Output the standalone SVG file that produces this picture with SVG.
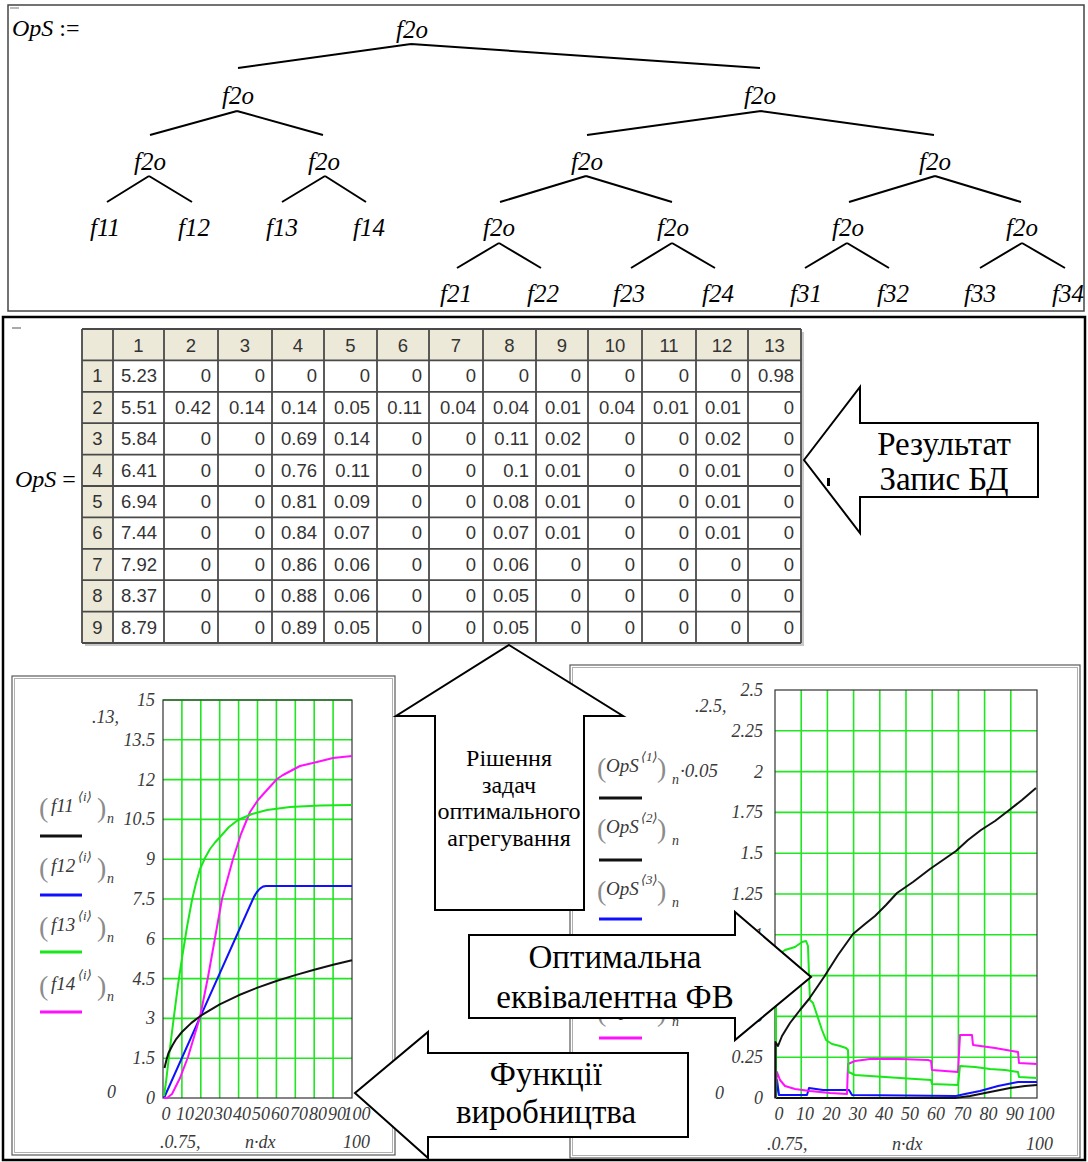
<svg xmlns="http://www.w3.org/2000/svg" width="1088" height="1162" viewBox="0 0 1088 1162">
<defs>
<style>
.tr{font-family:'Liberation Serif','DejaVu Serif',serif;font-style:italic;font-size:25px;text-anchor:middle;fill:#000}
.lbl{font-family:'Liberation Serif','DejaVu Serif',serif;font-style:italic;font-size:24px;fill:#000}
.edge{stroke:#000;stroke-width:2;fill:none}
.cell{font-family:'Liberation Sans',Arial,sans-serif;font-size:18.5px;fill:#333;text-anchor:end}
.hd{font-family:'Liberation Sans',Arial,sans-serif;font-size:18.5px;fill:#333;text-anchor:middle}
.tline{stroke:#4a4a4a;stroke-width:1.8;fill:none}
.grid{stroke:#22e622;stroke-width:1.6;fill:none}
.frame{stroke:#333;stroke-width:1.2;fill:none}
.ax{font-family:'Liberation Serif','DejaVu Serif',serif;font-style:italic;font-size:18px;fill:#3a3a3a}
.ya{text-anchor:end}
.xa{text-anchor:middle}
.par{font-family:'Liberation Serif','DejaVu Serif',serif;font-size:28px;fill:#8c8c8c}
.lf{font-family:'Liberation Serif','DejaVu Serif',serif;font-style:italic;font-size:19px;fill:#3a3a3a}
.sup{font-family:'Liberation Serif','DejaVu Serif',serif;font-style:italic;font-size:13px;fill:#3a3a3a}
.sub{font-family:'Liberation Serif','DejaVu Serif',serif;font-style:italic;font-size:14px;fill:#3a3a3a}
.key{stroke-width:3;fill:none}
.arrow{fill:#fff;stroke:#000;stroke-width:2;stroke-linejoin:miter}
.atx{font-family:'Liberation Serif','DejaVu Serif',serif;font-size:33px;text-anchor:middle;fill:#000}
.atxs{font-family:'Liberation Serif','DejaVu Serif',serif;font-size:24px;text-anchor:middle;fill:#000}
.box{fill:#fff;stroke:#5a5a5a;stroke-width:1.2}
.boxin{fill:none;stroke:#b0b0b0;stroke-width:1}
.curve{fill:none;stroke-width:2;stroke-linejoin:round}
</style>
</defs>

<rect width="1088" height="1162" fill="#fff"/>

<!-- upper region: aggregation tree -->
<g id="tree-panel">
  <rect x="8" y="5" width="1076" height="306" fill="#fff" stroke="#444" stroke-width="1.5"/>
  <rect x="10" y="7" width="9" height="2" fill="#bbb"/>
  <text class="lbl" x="12" y="36">OpS <tspan font-style="normal">:=</tspan></text>
</g>

<g id="tree-connectors">
  <path class="edge" d="M411,44 L238,68 M411,44 L760,68
    M237,111 L150,135 M237,111 L323,135
    M761,111 L587,135 M761,111 L934,135
    M149,176 L107,202 M149,176 L192,202
    M325,176 L282,202 M325,176 L366,202
    M586,176 L500,202 M586,176 L672,202
    M935,176 L849,202 M935,176 L1021,202
    M499,243 L457,268 M499,243 L541,268
    M672,243 L631,268 M672,243 L715,268
    M847,243 L805,268 M847,243 L889,268
    M1022,243 L980,268 M1022,243 L1065,268"/>
</g>

<g id="node-root"><text class="tr" x="412" y="38">f2o</text></g>
<g id="node-a"><text class="tr" x="238" y="104">f2o</text></g>
<g id="node-b"><text class="tr" x="760" y="104">f2o</text></g>
<g id="node-a1"><text class="tr" x="150" y="170">f2o</text></g>
<g id="node-a2"><text class="tr" x="324" y="170">f2o</text></g>
<g id="node-b1"><text class="tr" x="587" y="170">f2o</text></g>
<g id="node-b2"><text class="tr" x="935" y="170">f2o</text></g>
<g id="node-f11"><text class="tr" x="105" y="236">f11</text></g>
<g id="node-f12"><text class="tr" x="194" y="236">f12</text></g>
<g id="node-f13"><text class="tr" x="282" y="236">f13</text></g>
<g id="node-f14"><text class="tr" x="369" y="236">f14</text></g>
<g id="node-b11"><text class="tr" x="499" y="236">f2o</text></g>
<g id="node-b12"><text class="tr" x="673" y="236">f2o</text></g>
<g id="node-b21"><text class="tr" x="848" y="236">f2o</text></g>
<g id="node-b22"><text class="tr" x="1022" y="236">f2o</text></g>
<g id="node-f21"><text class="tr" x="456" y="302">f21</text></g>
<g id="node-f22"><text class="tr" x="543" y="302">f22</text></g>
<g id="node-f23"><text class="tr" x="629" y="302">f23</text></g>
<g id="node-f24"><text class="tr" x="718" y="302">f24</text></g>
<g id="node-f31"><text class="tr" x="806" y="302">f31</text></g>
<g id="node-f32"><text class="tr" x="893" y="302">f32</text></g>
<g id="node-f33"><text class="tr" x="980" y="302">f33</text></g>
<g id="node-f34"><text class="tr" x="1068" y="302">f34</text></g>

<!-- lower region frame -->
<g id="results-panel">
  <rect x="3" y="317" width="1082" height="843" fill="#fff" stroke="#000" stroke-width="2.5"/>
  <rect x="12" y="327" width="9" height="2" fill="#aaa"/>
</g>

<!-- result matrix -->
<g id="matrix">
  <text class="lbl" x="15" y="487" font-size="21">OpS <tspan font-style="normal">=</tspan></text>
  <rect x="85" y="332" width="719" height="314" fill="#c8c8c8"/>
  <rect x="82" y="329" width="719" height="314" fill="#fff"/>
  <rect x="82" y="329" width="719" height="31.4" fill="#ece9d8"/>
  <rect x="82" y="329" width="31" height="314" fill="#ece9d8"/>
  <path class="tline" d="M82,329 H801 M82,360.4 H801 M82,391.8 H801 M82,423.2 H801 M82,454.6 H801 M82,486 H801 M82,517.4 H801 M82,548.8 H801 M82,580.2 H801 M82,611.6 H801 M82,643 H801
    M82,329 V643 M113,329 V643 M164,329 V643 M218,329 V643 M272,329 V643 M324,329 V643 M377,329 V643 M429,329 V643 M483,329 V643 M536,329 V643 M588,329 V643 M642,329 V643 M696,329 V643 M748,329 V643 M801,329 V643"/>
  <text class="hd" y="351.5"><tspan x="138.5">1</tspan><tspan x="191">2</tspan><tspan x="245">3</tspan><tspan x="298">4</tspan><tspan x="350.5">5</tspan><tspan x="403">6</tspan><tspan x="456">7</tspan><tspan x="509.5">8</tspan><tspan x="562">9</tspan><tspan x="615">10</tspan><tspan x="669">11</tspan><tspan x="722">12</tspan><tspan x="774.5">13</tspan></text>
  <text class="hd" x="97.5"><tspan x="97.5" y="382.4">1</tspan><tspan x="97.5" y="413.8">2</tspan><tspan x="97.5" y="445.2">3</tspan><tspan x="97.5" y="476.6">4</tspan><tspan x="97.5" y="508">5</tspan><tspan x="97.5" y="539.4">6</tspan><tspan x="97.5" y="570.8">7</tspan><tspan x="97.5" y="602.2">8</tspan><tspan x="97.5" y="633.6">9</tspan></text>
  <text class="cell" y="382.4"><tspan x="157">5.23</tspan><tspan x="211">0</tspan><tspan x="265">0</tspan><tspan x="317">0</tspan><tspan x="370">0</tspan><tspan x="422">0</tspan><tspan x="476">0</tspan><tspan x="529">0</tspan><tspan x="581">0</tspan><tspan x="635">0</tspan><tspan x="689">0</tspan><tspan x="741">0</tspan><tspan x="794">0.98</tspan></text>
  <text class="cell" y="413.8"><tspan x="157">5.51</tspan><tspan x="211">0.42</tspan><tspan x="265">0.14</tspan><tspan x="317">0.14</tspan><tspan x="370">0.05</tspan><tspan x="422">0.11</tspan><tspan x="476">0.04</tspan><tspan x="529">0.04</tspan><tspan x="581">0.01</tspan><tspan x="635">0.04</tspan><tspan x="689">0.01</tspan><tspan x="741">0.01</tspan><tspan x="794">0</tspan></text>
  <text class="cell" y="445.2"><tspan x="157">5.84</tspan><tspan x="211">0</tspan><tspan x="265">0</tspan><tspan x="317">0.69</tspan><tspan x="370">0.14</tspan><tspan x="422">0</tspan><tspan x="476">0</tspan><tspan x="529">0.11</tspan><tspan x="581">0.02</tspan><tspan x="635">0</tspan><tspan x="689">0</tspan><tspan x="741">0.02</tspan><tspan x="794">0</tspan></text>
  <text class="cell" y="476.6"><tspan x="157">6.41</tspan><tspan x="211">0</tspan><tspan x="265">0</tspan><tspan x="317">0.76</tspan><tspan x="370">0.11</tspan><tspan x="422">0</tspan><tspan x="476">0</tspan><tspan x="529">0.1</tspan><tspan x="581">0.01</tspan><tspan x="635">0</tspan><tspan x="689">0</tspan><tspan x="741">0.01</tspan><tspan x="794">0</tspan></text>
  <text class="cell" y="508"><tspan x="157">6.94</tspan><tspan x="211">0</tspan><tspan x="265">0</tspan><tspan x="317">0.81</tspan><tspan x="370">0.09</tspan><tspan x="422">0</tspan><tspan x="476">0</tspan><tspan x="529">0.08</tspan><tspan x="581">0.01</tspan><tspan x="635">0</tspan><tspan x="689">0</tspan><tspan x="741">0.01</tspan><tspan x="794">0</tspan></text>
  <text class="cell" y="539.4"><tspan x="157">7.44</tspan><tspan x="211">0</tspan><tspan x="265">0</tspan><tspan x="317">0.84</tspan><tspan x="370">0.07</tspan><tspan x="422">0</tspan><tspan x="476">0</tspan><tspan x="529">0.07</tspan><tspan x="581">0.01</tspan><tspan x="635">0</tspan><tspan x="689">0</tspan><tspan x="741">0.01</tspan><tspan x="794">0</tspan></text>
  <text class="cell" y="570.8"><tspan x="157">7.92</tspan><tspan x="211">0</tspan><tspan x="265">0</tspan><tspan x="317">0.86</tspan><tspan x="370">0.06</tspan><tspan x="422">0</tspan><tspan x="476">0</tspan><tspan x="529">0.06</tspan><tspan x="581">0</tspan><tspan x="635">0</tspan><tspan x="689">0</tspan><tspan x="741">0</tspan><tspan x="794">0</tspan></text>
  <text class="cell" y="602.2"><tspan x="157">8.37</tspan><tspan x="211">0</tspan><tspan x="265">0</tspan><tspan x="317">0.88</tspan><tspan x="370">0.06</tspan><tspan x="422">0</tspan><tspan x="476">0</tspan><tspan x="529">0.05</tspan><tspan x="581">0</tspan><tspan x="635">0</tspan><tspan x="689">0</tspan><tspan x="741">0</tspan><tspan x="794">0</tspan></text>
  <text class="cell" y="633.6"><tspan x="157">8.79</tspan><tspan x="211">0</tspan><tspan x="265">0</tspan><tspan x="317">0.89</tspan><tspan x="370">0.05</tspan><tspan x="422">0</tspan><tspan x="476">0</tspan><tspan x="529">0.05</tspan><tspan x="581">0</tspan><tspan x="635">0</tspan><tspan x="689">0</tspan><tspan x="741">0</tspan><tspan x="794">0</tspan></text>
</g>

<!-- left plot: production functions f11..f14 -->
<g id="plot-left">
  <rect class="box" x="12" y="676" width="383" height="479"/>
  <rect class="boxin" x="14.5" y="678.5" width="378" height="474"/>
  <path class="grid" d="M181.9,700 V1098 M200.8,700 V1098 M219.7,700 V1098 M238.6,700 V1098 M257.5,700 V1098 M276.4,700 V1098 M295.3,700 V1098 M314.2,700 V1098 M333.1,700 V1098
    M163,700 H352 M163,739.8 H352 M163,779.6 H352 M163,819.4 H352 M163,859.2 H352 M163,899 H352 M163,938.8 H352 M163,978.6 H352 M163,1018.4 H352 M163,1058.2 H352"/>
  <rect class="frame" x="163" y="700" width="189" height="398"/>
  <path class="curve" stroke="#1010ff" d="M164,1098 L253,899 Q259,886 266,886 L352,886"/>
  <path class="curve" stroke="#ff10ff" d="M164,1098 L167,1098 L172,1094 L180,1078 L188,1057 L194,1037 L200,1017 L208,977 L215,938 L222,899 L233,859 L241,834 L250,812 L258,800 L267,790 L277,779 L283,775 L300,766 L317,762 L333,758 L352,756"/>
  <path class="curve" stroke="#18e818" d="M164,1096 L166,1082 L170,1048 L174,1016 L178,985 L182,958 L187,927 L192,900 L196,883 L200,869 L205,858 L210,849 L215,842.5 L220,837 L229,827 L238,820 L252,814 L267,810 L290,807 L320,805.5 L352,805"/>
  <path class="curve" stroke="#111" d="M164.5,1068 L166.8,1058.6 L168.5,1053 L172.5,1045.2 L176.2,1039.1 L181.9,1032 L191.4,1022.9 L200.8,1015.7 L219.7,1004.3 L238.6,995.3 L257.5,987.6 L276.4,981 L295.3,975.1 L314.2,969.7 L333.1,964.8 L352,960.2"/>
  <g class="ax ya">
    <text x="155" y="706">15</text><text x="155" y="745.8">13.5</text><text x="155" y="785.6">12</text><text x="155" y="825.4">10.5</text><text x="155" y="865.2">9</text><text x="155" y="905">7.5</text><text x="155" y="944.8">6</text><text x="155" y="984.6">4.5</text><text x="155" y="1024.4">3</text><text x="155" y="1064.2">1.5</text><text x="155" y="1104">0</text>
  </g>
  <g class="ax xa">
    <text x="166" y="1120">0</text><text x="185" y="1120">10</text><text x="204" y="1120">20</text><text x="223" y="1120">30</text><text x="242" y="1120">40</text><text x="261" y="1120">50</text><text x="280" y="1120">60</text><text x="299" y="1120">70</text><text x="318" y="1120">80</text><text x="337" y="1120">90</text><text x="357" y="1120">100</text>
  </g>
  <g class="ax">
    <text x="92" y="723">.13,</text>
    <text x="107" y="1098">0</text>
    <text x="160" y="1148">.0.75,</text>
    <text x="245" y="1148">n·dx</text>
    <text x="343" y="1148">100</text>
  </g>
  <g id="legend-left">
    <text class="par" x="39" y="817">(</text><text class="lf" x="51" y="812">f11</text><text class="sup" x="78" y="801">⟨i⟩</text><text class="par" x="97" y="817">)</text><text class="sub" x="107" y="823">n</text>
    <line class="key" x1="40" y1="836" x2="82" y2="836" stroke="#111"/>
    <text class="par" x="39" y="877">(</text><text class="lf" x="51" y="872">f12</text><text class="sup" x="78" y="861">⟨i⟩</text><text class="par" x="97" y="877">)</text><text class="sub" x="107" y="883">n</text>
    <line class="key" x1="40" y1="895" x2="82" y2="895" stroke="#1010ff"/>
    <text class="par" x="39" y="936">(</text><text class="lf" x="51" y="931">f13</text><text class="sup" x="78" y="920">⟨i⟩</text><text class="par" x="97" y="936">)</text><text class="sub" x="107" y="942">n</text>
    <line class="key" x1="40" y1="952" x2="82" y2="952" stroke="#18e818"/>
    <text class="par" x="39" y="995">(</text><text class="lf" x="51" y="990">f14</text><text class="sup" x="78" y="979">⟨i⟩</text><text class="par" x="97" y="995">)</text><text class="sub" x="107" y="1001">n</text>
    <line class="key" x1="40" y1="1012" x2="82" y2="1012" stroke="#ff10ff"/>
  </g>
</g>

<!-- right plot: optimal equivalent function and shares -->
<g id="plot-right">
  <rect class="box" x="570" y="665" width="510" height="493"/>
  <rect class="boxin" x="572.5" y="667.5" width="505" height="488"/>
  <path class="grid" d="M801.2,690 V1098 M827.4,690 V1098 M853.6,690 V1098 M879.8,690 V1098 M906,690 V1098 M932.2,690 V1098 M958.4,690 V1098 M984.6,690 V1098 M1010.8,690 V1098
    M775,730.8 H1037 M775,771.6 H1037 M775,812.4 H1037 M775,853.2 H1037 M775,894 H1037 M775,934.8 H1037 M775,975.6 H1037 M775,1016.4 H1037 M775,1057.2 H1037"/>
  <rect class="frame" x="775" y="690" width="262" height="408"/>
  <path class="curve" stroke="#111" d="M776,1098 L955,1098 L970,1096 L990,1092 L1010,1088 L1025,1086 L1037,1085"/>
  <path class="curve" stroke="#1010ff" d="M776,1098 L777,1080 L779,1095 L807,1095 L809,1088 L823,1090 L849,1090 L852,1095 L956,1096 L965,1094 L980,1091 L998,1086 L1018,1082 L1037,1082"/>
  <path class="curve" stroke="#ff10ff" d="M775.5,1098 L777,1072 L780,1080 L785,1086 L795,1089 L810,1091 L830,1093 L847,1094 L848,1064 L855,1061 L870,1059 L900,1059 L928,1060 L931,1061 L932,1070 L958,1072 L960,1035 L972,1035 L973,1045 L995,1048 L1018,1052 L1019,1063 L1037,1064"/>
  <path class="curve" stroke="#18e818" d="M776,1098 L776,1000 L778,955 L785,950 L795,947 L802,942 L806,941 L808,946 L809,975 L810,1000 L813,1003 L817,1015 L822,1030 L826,1040 L832,1044 L840,1046 L846,1048 L848,1050 L848.5,1072 L855,1075 L870,1076 L900,1078 L931,1080 L932,1084 L958,1085 L960,1066 L975,1067 L990,1069 L1005,1070 L1018,1072 L1019,1077 L1037,1078"/>
  <path class="curve" stroke="#111" d="M775.5,1098 L775.5,1042 L778,1046 L782,1036 L790,1023 L800,1010 L809,999 L824,977 L838,955 L853,934 L865,924 L875,916 L886,905 L897,893 L913,882 L930,869 L943,860 L956,851 L968,840 L981,830 L995,821 L1008,811 L1022,800 L1036,788"/>
  <g class="ax ya">
    <text x="763" y="696">2.5</text><text x="763" y="736.8">2.25</text><text x="763" y="777.6">2</text><text x="763" y="818.4">1.75</text><text x="763" y="859.2">1.5</text><text x="763" y="900">1.25</text><text x="763" y="940.8">1</text><text x="763" y="981.6">0.75</text><text x="763" y="1022.4">0.5</text><text x="763" y="1063.2">0.25</text><text x="763" y="1104">0</text>
  </g>
  <g class="ax xa">
    <text x="779" y="1120">0</text><text x="805" y="1120">10</text><text x="831.6" y="1120">20</text><text x="857.8" y="1120">30</text><text x="884" y="1120">40</text><text x="910" y="1120">50</text><text x="936" y="1120">60</text><text x="962.4" y="1120">70</text><text x="988.6" y="1120">80</text><text x="1014.8" y="1120">90</text><text x="1041" y="1120">100</text>
  </g>
  <g class="ax">
    <text x="695" y="712">.2.5,</text>
    <text x="715" y="1099">0</text>
    <text x="767" y="1150">.0.75,</text>
    <text x="892" y="1150">n·dx</text>
    <text x="1026" y="1150">100</text>
  </g>
  <g id="legend-right">
    <text class="par" x="597" y="777">(</text><text class="lf" x="606" y="772">OpS</text><text class="sup" x="641" y="761">⟨1⟩</text><text class="par" x="657" y="777">)</text><text class="sub" x="672" y="784">n</text><text class="lf" x="680" y="777" font-size="17">·0.05</text>
    <line class="key" x1="599" y1="798" x2="642" y2="798" stroke="#111"/>
    <text class="par" x="597" y="838">(</text><text class="lf" x="606" y="833">OpS</text><text class="sup" x="641" y="822">⟨2⟩</text><text class="par" x="657" y="838">)</text><text class="sub" x="672" y="845">n</text>
    <line class="key" x1="599" y1="860" x2="642" y2="860" stroke="#111"/>
    <text class="par" x="597" y="900">(</text><text class="lf" x="606" y="895">OpS</text><text class="sup" x="641" y="884">⟨3⟩</text><text class="par" x="657" y="900">)</text><text class="sub" x="672" y="907">n</text>
    <line class="key" x1="599" y1="919" x2="642" y2="919" stroke="#1010ff"/>
    <text class="par" x="597" y="962">(</text><text class="lf" x="606" y="957">OpS</text><text class="sup" x="641" y="946">⟨4⟩</text><text class="par" x="657" y="962">)</text><text class="sub" x="672" y="969">n</text>
    <line class="key" x1="599" y1="980" x2="642" y2="980" stroke="#18e818"/>
    <text class="par" x="597" y="1021">(</text><text class="lf" x="606" y="1016">OpS</text><text class="sup" x="641" y="1005">⟨5⟩</text><text class="par" x="657" y="1021">)</text><text class="sub" x="672" y="1026">n</text>
    <line class="key" x1="599" y1="1038" x2="642" y2="1038" stroke="#ff10ff"/>
  </g>
</g>

<!-- block arrows with captions -->
<g id="arrow-result">
  <polygon class="arrow" points="804,460 860,387 860,423 1038,423 1038,497 860,497 860,533"/>
  <rect x="827" y="478" width="3" height="8" fill="#000"/>
  <text class="atx" font-size="28.5" x="944" y="455">Результат</text>
  <text class="atx" font-size="28.5" x="944" y="490">Запис БД</text>
</g>

<g id="arrow-solve">
  <polygon class="arrow" points="509,645 623,716 584,716 584,910 435,910 435,716 396,716"/>
  <text class="atxs" x="509" y="766">Рішення</text>
  <text class="atxs" x="509" y="793">задач</text>
  <text class="atxs" x="509" y="819">оптимального</text>
  <text class="atxs" x="509" y="846">агрегування</text>
</g>

<g id="arrow-optimal">
  <polygon class="arrow" points="469,935 735,935 735,912 811,977 735,1040 735,1018 469,1018"/>
  <text class="atx" x="615" y="968">Оптимальна</text>
  <text class="atx" x="615" y="1008">еквівалентна ФВ</text>
</g>

<g id="arrow-production">
  <polygon class="arrow" points="355,1093 428,1032 428,1053 688,1053 688,1137 428,1137 428,1158"/>
  <text class="atx" x="546" y="1085">Функції</text>
  <text class="atx" x="546" y="1123">виробництва</text>
</g>
</svg>
